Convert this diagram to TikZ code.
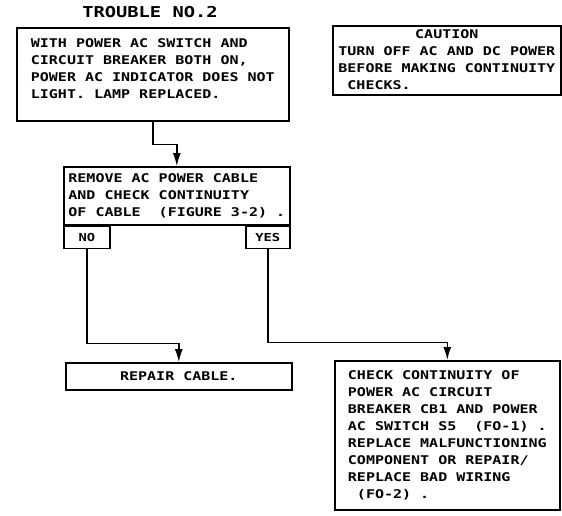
\documentclass[tikz,border=0pt]{standalone}
\usepackage{fontspec}
\setmainfont{DejaVu Sans Mono}[FakeStretch=1.25]
\usetikzlibrary{arrows.meta,positioning}
\tikzset{
	every picture/.style={font=\fontsize{12}{17}\selectfont\bfseries,},
	lw/.style={line width=1.6pt,},
	%%%
	box/.style={draw, lw, align=left, anchor=north west, inner sep=0pt,},
	tab/.style={draw, lw, inner sep=0pt, minimum height=22pt, font=\fontsize{11}{11}\selectfont\bfseries,},
	flow/.style={line width=1.4pt, -{Latex[length=13pt,width=8pt]},},
}

\begin{document}
\begin{tikzpicture}[x=1pt,y=-1pt]

	\useasboundingbox (0,0) rectangle (562,515);

	%%% Title, caution

	\node[font=\fontsize{15}{15}\selectfont\bfseries] (title) at (150,12) {TROUBLE NO.2};

	\node[box, minimum width=228pt, minimum height=69pt] (caution) at (332,25)
		{\begin{tabular}{@{}l@{}}\multicolumn{1}{@{}c@{}}{CAUTION}\\TURN OFF AC AND DC POWER\\BEFORE MAKING CONTINUITY\\\ CHECKS.\end{tabular}};

	%%% Boxes

	\node[box, minimum width=272pt, minimum height=93pt] (trouble) at (16,27)
		{WITH POWER AC SWITCH AND\\CIRCUIT BREAKER BOTH ON,\\POWER AC INDICATOR DOES NOT\\LIGHT. LAMP REPLACED.\\[-6pt]};

	\node[box, minimum width=226pt, minimum height=58pt] (cablecheck) at (63,166)
		{REMOVE AC POWER CABLE\\AND CHECK CONTINUITY\\OF CABLE~~(FIGURE 3-2)~.};
	\node[tab, anchor=north west, minimum width=46pt] (no) at (cablecheck.south west) {NO};
	\node[tab, anchor=north east, minimum width=44pt] (yes) at (cablecheck.south east) {YES};

	\node[box, minimum width=226pt, minimum height=27pt] (repair) at (65,362) {REPAIR CABLE.};

	\node[box, minimum width=225pt, minimum height=149pt] (ckswitch) at (334,360)
		{CHECK CONTINUITY OF\\POWER AC CIRCUIT\\BREAKER CB1 AND POWER\\AC SWITCH S5~~(FO-1)~.\\REPLACE MALFUNCTIONING\\COMPONENT OR REPAIR/\\REPLACE BAD WIRING\\\ (FO-2)~.};

	%%% Connectors

	\draw[flow] (trouble.south) -- ++(0,23) -| (cablecheck.north);
	\draw[flow] (no.south) -- ++(0,94) -| (repair.north);
	\draw[flow] (yes.south) -- ++(0,93) -| (ckswitch.north);

\end{tikzpicture}
\end{document}
